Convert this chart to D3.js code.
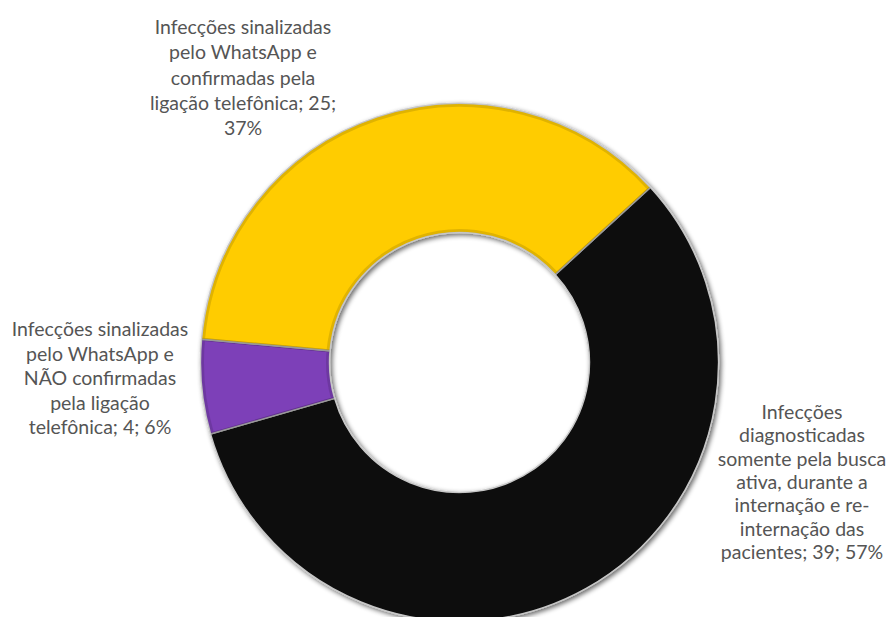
<!DOCTYPE html>
<html>
<head>
<meta charset="utf-8">
<script src="https://cdn.jsdelivr.net/npm/d3@7"></script>
<style>
  body { margin: 0; background: #fff; }
  text { font-family: Lato, "Open Sans", sans-serif; fill: #555; }
</style>
</head>
<body>
<div id="chart"></div>
<script>
// Data
const categories = [
  "Infecções diagnosticadas somente pela busca ativa, durante a internação e re-internação das pacientes",
  "Infecções sinalizadas pelo WhatsApp e NÃO confirmadas pela ligação telefônica",
  "Infecções sinalizadas pelo WhatsApp e confirmadas pela ligação telefônica"
];
const values = [39, 4, 25];
const percents = ["57%", "6%", "37%"];
const colors = ["#0a0a0a", "#7d3fb8", "#ffcc00"];

// Label lines (as wrapped in the chart)
const labelLines = [
  ["Infecções", "diagnosticadas", "somente pela busca", "ativa, durante a", "internação e re-", "internação das", "pacientes; 39; 57%"],
  ["Infecções sinalizadas", "pelo WhatsApp e", "NÃO confirmadas", "pela ligação", "telefônica; 4; 6%"],
  ["Infecções sinalizadas", "pelo WhatsApp e", "confirmadas pela", "ligação telefônica; 25;", "37%"]
];

const width = 890;
const height = 617;
const cx = 459.5;
const cy = 362.5;
const outerR = 259;
const innerR = 130;
const rotation = 47.5 * Math.PI / 180;

// label anchors (center x, first baseline y, line height)
const labelPos = [
  { x: 802, y: 419, h: 23.3 },
  { x: 100, y: 336, h: 24.5 },
  { x: 243, y: 34, h: 25.3 }
];

const svg = d3.select("#chart")
  .append("svg")
  .attr("width", width)
  .attr("height", height);

const defs = svg.append("defs");
const shadow = defs.append("filter")
  .attr("id", "shadow")
  .attr("x", "-20%").attr("y", "-20%")
  .attr("width", "140%").attr("height", "140%");
shadow.append("feGaussianBlur").attr("in", "SourceAlpha").attr("stdDeviation", 2.5).attr("result", "blur");
shadow.append("feOffset").attr("in", "blur").attr("dx", 2).attr("dy", 2).attr("result", "off");
shadow.append("feComponentTransfer").attr("in", "off").attr("result", "soft")
  .append("feFuncA").attr("type", "linear").attr("slope", 0.6);
const merge = shadow.append("feMerge");
merge.append("feMergeNode").attr("in", "soft");
merge.append("feMergeNode").attr("in", "SourceGraphic");

const pie = d3.pie()
  .value(d => d)
  .sort(null)
  .startAngle(rotation)
  .endAngle(rotation + 2 * Math.PI);

const arc = d3.arc()
  .innerRadius(innerR)
  .outerRadius(outerR);

const g = svg.append("g")
  .attr("transform", `translate(${cx}, ${cy})`)
  .attr("filter", "url(#shadow)");

g.selectAll(".slice")
  .data(pie(values))
  .enter()
  .append("path")
  .attr("class", "slice")
  .attr("d", arc)
  .attr("fill", (d, i) => colors[i])
  .attr("stroke", "#c8c8c8")
  .attr("stroke-width", 1.5);

// soft bevel on slice edges
g.selectAll(".bevel")
  .data(pie(values))
  .enter()
  .append("path")
  .attr("class", "bevel")
  .attr("d", d3.arc().innerRadius(innerR + 2).outerRadius(outerR - 2))
  .attr("fill", "none")
  .attr("stroke", "rgba(0,0,0,0.12)")
  .attr("stroke-width", 3);

// Labels
labelLines.forEach((lines, i) => {
  const t = svg.append("text")
    .attr("text-anchor", "middle")
    .attr("font-size", 19.5);
  t.append("title").text(`${categories[i]}; ${values[i]}; ${percents[i]}`);
  lines.forEach((line, j) => {
    t.append("tspan")
      .attr("x", labelPos[i].x)
      .attr("y", labelPos[i].y + j * labelPos[i].h)
      .text(line);
  });
});
</script>
</body>
</html>
